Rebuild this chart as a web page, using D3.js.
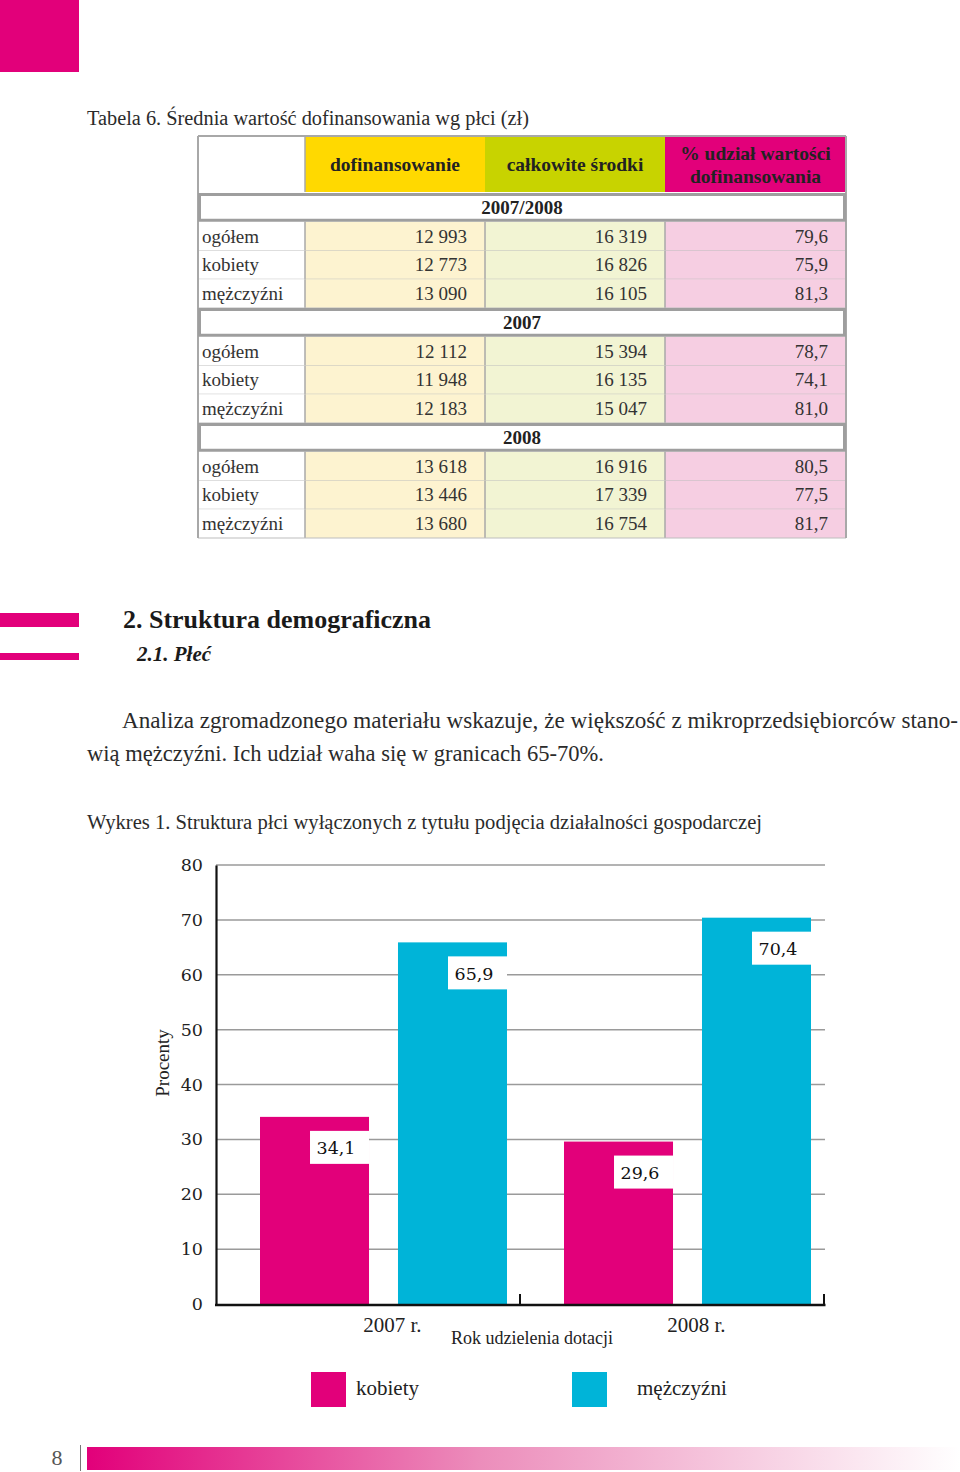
<!DOCTYPE html>
<html>
<head>
<meta charset="utf-8">
<script src="https://cdn.jsdelivr.net/npm/d3@7"></script>
<style>
  html, body { margin: 0; padding: 0; background: #fff; }
  svg { display: block; }
</style>
</head>
<body>
<svg id="page" width="960" height="1472"></svg>
<script>
// ---------- DATA ----------
const tableTitle = "Tabela 6. Średnia wartość dofinansowania wg płci (zł)";
const tableColumns = ["dofinansowanie", "całkowite środki", "% udział wartości|dofinansowania"];
const tableGroups = ["2007/2008", "2007", "2008"];
const rowLabels = ["ogółem", "kobiety", "mężczyźni"];
const dofinansowanie = [[12993, 12773, 13090], [12112, 11948, 12183], [13618, 13446, 13680]];
const calkowiteSrodki = [[16319, 16826, 16105], [15394, 16135, 15047], [16916, 17339, 16754]];
const udzialProcent = [[79.6, 75.9, 81.3], [78.7, 74.1, 81.0], [80.5, 77.5, 81.7]];

const heading1 = "2. Struktura demograficzna";
const heading2 = "2.1. Płeć";
const paragraph = [
  "Analiza zgromadzonego materiału wskazuje, że większość z mikroprzedsiębiorców stano-",
  "wią mężczyźni. Ich udział waha się w granicach 65-70%."
];
const chartTitle = "Wykres 1. Struktura płci wyłączonych z tytułu podjęcia działalności gospodarczej";
const years = ["2007 r.", "2008 r."];
const seriesNames = ["kobiety", "mężczyźni"];
const kobiety = [34.1, 29.6];
const mezczyzni = [65.9, 70.4];
const yTicks = [0, 10, 20, 30, 40, 50, 60, 70, 80];
const yAxisTitle = "Procenty";
const xAxisTitle = "Rok udzielenia dotacji";
const pageNumber = "8";

// ---------- STYLE ----------
const MAGENTA = "#e2007a", CYAN = "#00b4d8";
const SERIF = "'Liberation Serif', serif";
const SERIF2 = "'DejaVu Serif', serif";
const TXT = "#2b2b2b";

const locale = d3.formatLocale({ decimal: ",", thousands: " ", grouping: [3], currency: ["", ""] });
const fmtInt = locale.format(",d");
const fmtDec = locale.format(".1f");

const svg = d3.select("#page");

// gradient for footer
const defs = svg.append("defs");
const grad = defs.append("linearGradient").attr("id", "footGrad").attr("x1", "0").attr("x2", "1");
grad.append("stop").attr("offset", "0").attr("stop-color", MAGENTA);
grad.append("stop").attr("offset", "0.45").attr("stop-color", "#ec8dbb");
grad.append("stop").attr("offset", "1").attr("stop-color", "#ffffff");

// top-left square
svg.append("rect").attr("x", 0).attr("y", 0).attr("width", 79).attr("height", 72).attr("fill", MAGENTA);

// table title
svg.append("text").attr("x", 87).attr("y", 125).attr("font-family", SERIF).attr("font-size", 20)
  .attr("fill", TXT).attr("textLength", 442).attr("lengthAdjust", "spacingAndGlyphs").text(tableTitle);

// ---------- TABLE ----------
const colX = d3.scaleOrdinal().domain([0, 1, 2, 3, 4]).range([198, 305, 485, 665, 846]);
const rowCount = tableGroups.length * (rowLabels.length + 1);
const rowY = d3.scaleLinear().domain([0, rowCount]).range([193, 538]);
const headTop = 136, headBottom = 192;
const headFill = ["#ffd900", "#c8d300", MAGENTA];
const cellFill = ["#fdf3d0", "#f2f4d3", "#f6cee2"];
const tbl = svg.append("g");

// header cells
tbl.append("rect").attr("x", colX(0)).attr("y", headTop).attr("width", colX(1) - colX(0))
  .attr("height", headBottom - headTop).attr("fill", "#fff");
tableColumns.forEach((c, i) => {
  tbl.append("rect").attr("x", colX(i + 1)).attr("y", headTop).attr("width", colX(i + 2) - colX(i + 1))
    .attr("height", headBottom - headTop).attr("fill", headFill[i]);
  const lines = c.split("|");
  const cx = (colX(i + 1) + colX(i + 2)) / 2;
  lines.forEach((l, j) => {
    const cy = lines.length === 1 ? (headTop + headBottom) / 2 + 7 : headTop + 24 + j * 23;
    tbl.append("text").attr("x", cx).attr("y", cy).attr("text-anchor", "middle")
      .attr("font-family", SERIF).attr("font-weight", "bold").attr("font-size", 19.5)
      .attr("fill", "#222").text(l);
  });
});

// body rows
const rows = [];
tableGroups.forEach((g, gi) => {
  rows.push({ type: "group", label: g });
  rowLabels.forEach((r, ri) => {
    rows.push({ type: "data", label: r, vals: [fmtInt(dofinansowanie[gi][ri]), fmtInt(calkowiteSrodki[gi][ri]), fmtDec(udzialProcent[gi][ri])] });
  });
});

rows.forEach((r, i) => {
  const y0 = rowY(i), y1 = rowY(i + 1);
  if (r.type === "data") {
    tbl.append("rect").attr("x", colX(0)).attr("y", y0).attr("width", colX(1) - colX(0)).attr("height", y1 - y0).attr("fill", "#fff");
    r.vals.forEach((v, k) => {
      tbl.append("rect").attr("x", colX(k + 1)).attr("y", y0).attr("width", colX(k + 2) - colX(k + 1))
        .attr("height", y1 - y0).attr("fill", cellFill[k]);
      tbl.append("text").attr("x", colX(k + 2) - 18).attr("y", (y0 + y1) / 2 + 6.5).attr("text-anchor", "end")
        .attr("font-family", SERIF).attr("font-size", 19).attr("fill", "#333").text(v);
    });
    tbl.append("text").attr("x", colX(0) + 4).attr("y", (y0 + y1) / 2 + 6.5)
      .attr("font-family", SERIF).attr("font-size", 19).attr("fill", "#333").text(r.label);
    [1, 2, 3].forEach(k => {
      tbl.append("line").attr("x1", colX(k)).attr("x2", colX(k)).attr("y1", y0).attr("y2", y1)
        .attr("stroke", "#a8a8a8").attr("stroke-width", 1.5);
    });
    tbl.append("line").attr("x1", colX(0)).attr("x2", colX(4)).attr("y1", y1).attr("y2", y1)
      .attr("stroke", "#bdbdbd").attr("stroke-width", 1.2);
  }
});
[0, 4].forEach(k => {
  tbl.append("line").attr("x1", colX(k)).attr("x2", colX(k)).attr("y1", headTop).attr("y2", 538)
    .attr("stroke", "#a8a8a8").attr("stroke-width", 2);
});
tbl.append("line").attr("x1", colX(1)).attr("x2", colX(1)).attr("y1", headTop).attr("y2", headBottom)
  .attr("stroke", "#a8a8a8").attr("stroke-width", 1.5);
tbl.append("line").attr("x1", colX(0)).attr("x2", colX(4)).attr("y1", headTop).attr("y2", headTop)
  .attr("stroke", "#a8a8a8").attr("stroke-width", 2);
// group rows
rows.forEach((r, i) => {
  if (r.type !== "group") return;
  const y0 = rowY(i), y1 = rowY(i + 1);
  tbl.append("rect").attr("x", colX(0) + 1.5).attr("y", y0 + 1.5).attr("width", colX(4) - colX(0) - 3)
    .attr("height", y1 - y0 - 3).attr("fill", "#fff").attr("stroke", "#9e9e9e").attr("stroke-width", 3);
  tbl.append("text").attr("x", (colX(0) + colX(4)) / 2).attr("y", (y0 + y1) / 2 + 6.5).attr("text-anchor", "middle")
    .attr("font-family", SERIF).attr("font-weight", "bold").attr("font-size", 19).attr("fill", "#222").text(r.label);
});

// ---------- SECTION HEADINGS ----------
svg.append("rect").attr("x", 0).attr("y", 613).attr("width", 79).attr("height", 14).attr("fill", MAGENTA);
svg.append("rect").attr("x", 0).attr("y", 653).attr("width", 79).attr("height", 7).attr("fill", MAGENTA);
svg.append("text").attr("x", 123).attr("y", 628).attr("font-family", SERIF).attr("font-weight", "bold")
  .attr("font-size", 26).attr("fill", "#1a1a1a").attr("textLength", 308).attr("lengthAdjust", "spacingAndGlyphs").text(heading1);
svg.append("text").attr("x", 137).attr("y", 661).attr("font-family", SERIF).attr("font-weight", "bold")
  .attr("font-style", "italic").attr("font-size", 21).attr("fill", "#1a1a1a").text(heading2);

// paragraph
svg.append("text").attr("x", 122).attr("y", 728).attr("font-family", SERIF).attr("font-size", 22.5)
  .attr("fill", TXT).attr("textLength", 836).attr("lengthAdjust", "spacingAndGlyphs").text(paragraph[0]);
svg.append("text").attr("x", 87).attr("y", 761).attr("font-family", SERIF).attr("font-size", 22.5)
  .attr("fill", TXT).attr("textLength", 517).attr("lengthAdjust", "spacingAndGlyphs").text(paragraph[1]);

// chart title
svg.append("text").attr("x", 87).attr("y", 829).attr("font-family", SERIF).attr("font-size", 20)
  .attr("fill", TXT).attr("textLength", 675).attr("lengthAdjust", "spacingAndGlyphs").text(chartTitle);

// ---------- CHART ----------
const y = d3.scaleLinear().domain([0, 80]).range([1304, 865]);
const x0 = d3.scaleBand().domain(years).range([216, 824]);
const x1 = d3.scaleBand().domain(seriesNames).range([44, 291]).paddingInner(0.21);
const color = d3.scaleOrdinal().domain(seriesNames).range([MAGENTA, CYAN]);
const chart = svg.append("g");

chart.append("g").selectAll("line").data(yTicks.filter(t => t > 0)).join("line")
  .attr("x1", 216).attr("x2", 825).attr("y1", d => y(d)).attr("y2", d => y(d))
  .attr("stroke", "#9a9a9a").attr("stroke-width", 1.5);

const yAxis = d3.axisLeft(y).tickValues(yTicks).tickSize(0).tickPadding(13).tickFormat(d3.format("d"));
const yg = chart.append("g").attr("transform", "translate(216,0)").call(yAxis);
yg.select(".domain").attr("stroke", "#111").attr("stroke-width", 2.2);
yg.selectAll("text").attr("font-family", SERIF2).attr("font-size", 17.5).attr("fill", "#222");

const barData = [];
years.forEach((yr, i) => {
  barData.push({ year: yr, s: seriesNames[0], v: kobiety[i] });
  barData.push({ year: yr, s: seriesNames[1], v: mezczyzni[i] });
});
chart.append("g").selectAll("rect").data(barData).join("rect")
  .attr("x", d => x0(d.year) + x1(d.s)).attr("width", x1.bandwidth())
  .attr("y", d => y(d.v)).attr("height", d => y(0) - y(d.v)).attr("fill", d => color(d.s));

const lbl = chart.append("g").selectAll("g").data(barData).join("g")
  .attr("transform", d => `translate(${x0(d.year) + x1(d.s) + x1.bandwidth() - 59},${y(d.v) + 14})`);
lbl.append("rect").attr("width", 59).attr("height", 33).attr("fill", "#fff");
lbl.append("text").attr("x", 6.5).attr("y", 23.5).attr("font-family", SERIF2).attr("font-size", 17.5)
  .attr("fill", "#111").text(d => fmtDec(d.v));

const xg = chart.append("g");
xg.append("line").attr("x1", 215).attr("x2", 825.5).attr("y1", 1305).attr("y2", 1305)
  .attr("stroke", "#111").attr("stroke-width", 2.5);
xg.selectAll("line.tk").data(years).join("line").attr("class", "tk")
  .attr("x1", d => x0(d) + x0.bandwidth()).attr("x2", d => x0(d) + x0.bandwidth())
  .attr("y1", 1305).attr("y2", 1294).attr("stroke", "#111").attr("stroke-width", 2);
xg.selectAll("text.yl").data(years).join("text").attr("class", "yl")
  .attr("x", d => x0(d) + x0.bandwidth() * 0.58).attr("y", 1332).attr("text-anchor", "middle")
  .attr("font-family", SERIF).attr("font-size", 21).attr("fill", "#222").text(d => d);
xg.append("text").attr("x", 532).attr("y", 1344).attr("text-anchor", "middle")
  .attr("font-family", SERIF).attr("font-size", 18).attr("fill", "#222").text(xAxisTitle);

chart.append("text").attr("transform", "translate(169,1063) rotate(-90)").attr("text-anchor", "middle")
  .attr("font-family", SERIF).attr("font-size", 19).attr("fill", "#222").text(yAxisTitle);

const legX = d3.scaleOrdinal().domain(seriesNames).range([311, 572]);
const legTextX = d3.scaleOrdinal().domain(seriesNames).range([356, 637]);
const leg = chart.append("g").selectAll("g").data(seriesNames).join("g");
leg.append("rect").attr("x", d => legX(d)).attr("y", 1372).attr("width", 35).attr("height", 35).attr("fill", d => color(d));
leg.append("text").attr("x", d => legTextX(d)).attr("y", 1395).attr("font-family", SERIF).attr("font-size", 21)
  .attr("fill", "#222").text(d => d);

// ---------- FOOTER ----------
svg.append("text").attr("x", 57).attr("y", 1465).attr("text-anchor", "middle").attr("font-family", SERIF)
  .attr("font-size", 22).attr("fill", "#555").text(pageNumber);
svg.append("line").attr("x1", 80.5).attr("x2", 80.5).attr("y1", 1445).attr("y2", 1471).attr("stroke", "#777").attr("stroke-width", 1);
svg.append("rect").attr("x", 87).attr("y", 1447).attr("width", 873).attr("height", 23).attr("fill", "url(#footGrad)");
</script>
</body>
</html>
